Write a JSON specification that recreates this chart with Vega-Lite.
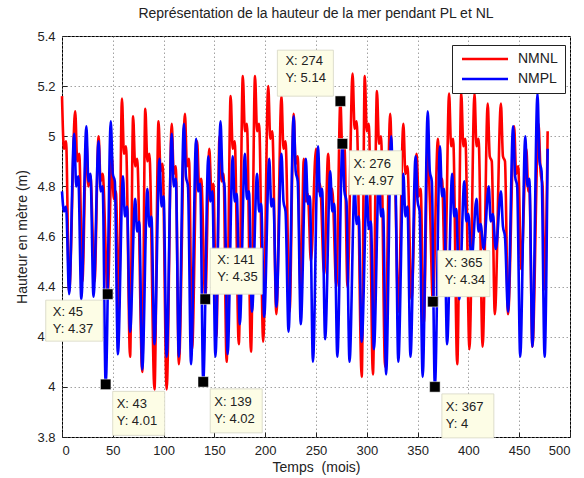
{
  "$schema": "https://vega.github.io/schema/vega-lite/v6.json",
  "width": 508,
  "height": 401,
  "autosize": {"type": "none"},
  "padding": {"left": 62, "top": 36, "right": 14, "bottom": 41},
  "background": "white",
  "title": {"text": "Représentation de la hauteur de la mer pendant PL et NL", "font": "Liberation Sans", "fontSize": 14, "fontWeight": "normal", "color": "#222222", "offset": 9},
  "config": {
    "font": "Liberation Sans",
    "view": {"stroke": "black", "strokeWidth": 1},
    "axis": {
      "labelFont": "Liberation Sans", "labelFontSize": 13, "labelColor": "#222222",
      "titleFont": "Liberation Sans", "titleFontSize": 14, "titleFontWeight": "normal", "titleColor": "#222222",
      "domain": false, "ticks": true, "tickSize": -5, "tickColor": "#222222",
      "grid": true, "gridColor": "#8a8a8a", "gridDash": [1.5, 2.5], "gridWidth": 0.8, "gridOpacity": 1,
      "labelPadding": 12
    }
  },
  "datasets": {
    "nmnl": [
      {"t":0,"h":5.16},{"t":2,"h":4.95},{"t":4,"h":4.98},{"t":7,"h":4.38},
      {"t":13,"h":5.10},{"t":15,"h":4.90},{"t":17,"h":4.93},{"t":20,"h":4.42},
      {"t":24,"h":4.98},{"t":26,"h":4.80},{"t":28,"h":4.84},{"t":32,"h":4.42},
      {"t":36,"h":5.00},{"t":38,"h":4.82},{"t":40,"h":4.85},{"t":45,"h":4.37},
      {"t":49,"h":4.92},{"t":51,"h":4.75},{"t":53,"h":4.78},{"t":56,"h":4.30},
      {"t":59,"h":5.15},{"t":61,"h":4.93},{"t":63,"h":4.96},{"t":67,"h":4.12},
      {"t":70,"h":5.08},{"t":72,"h":4.88},{"t":74,"h":4.91},{"t":79,"h":4.06},
      {"t":82,"h":5.11},{"t":84,"h":4.90},{"t":86,"h":4.93},{"t":91,"h":3.99},
      {"t":95,"h":5.06},{"t":97,"h":4.86},{"t":99,"h":4.89},{"t":103,"h":3.99},
      {"t":108,"h":5.05},{"t":110,"h":4.85},{"t":112,"h":4.88},{"t":115,"h":4.09},
      {"t":121,"h":5.09},{"t":123,"h":4.88},{"t":125,"h":4.91},{"t":128,"h":4.15},
      {"t":133,"h":4.98},{"t":135,"h":4.80},{"t":137,"h":4.83},{"t":141,"h":4.35},
      {"t":145,"h":4.95},{"t":147,"h":4.78},{"t":149,"h":4.81},{"t":152,"h":4.20},
      {"t":155,"h":5.00},{"t":157,"h":4.82},{"t":159,"h":4.85},{"t":162,"h":4.10},
      {"t":166,"h":5.16},{"t":168,"h":4.95},{"t":170,"h":4.98},{"t":174,"h":4.17},
      {"t":178,"h":5.24},{"t":180,"h":5.02},{"t":182,"h":5.05},{"t":186,"h":4.14},
      {"t":190,"h":5.24},{"t":192,"h":5.02},{"t":194,"h":5.05},{"t":198,"h":4.18},
      {"t":203,"h":5.20},{"t":205,"h":4.99},{"t":207,"h":5.02},{"t":211,"h":4.29},
      {"t":216,"h":5.16},{"t":218,"h":4.95},{"t":220,"h":4.98},{"t":224,"h":4.30},
      {"t":228,"h":5.09},{"t":230,"h":4.89},{"t":232,"h":4.92},{"t":235,"h":4.35},
      {"t":238,"h":4.91},{"t":240,"h":4.74},{"t":242,"h":4.77},{"t":245,"h":4.50},
      {"t":250,"h":4.95},{"t":252,"h":4.78},{"t":254,"h":4.81},{"t":258,"h":4.45},
      {"t":262,"h":4.93},{"t":264,"h":4.76},{"t":266,"h":4.79},{"t":270,"h":4.40},
      {"t":274,"h":5.14},{"t":276,"h":4.93},{"t":278,"h":4.96},{"t":281,"h":4.40},
      {"t":286,"h":5.25},{"t":288,"h":5.03},{"t":290,"h":5.06},{"t":295,"h":4.04},
      {"t":298,"h":5.24},{"t":300,"h":5.02},{"t":302,"h":5.05},{"t":306,"h":4.05},
      {"t":310,"h":5.18},{"t":312,"h":4.97},{"t":314,"h":5.00},{"t":318,"h":4.08},
      {"t":323,"h":5.09},{"t":325,"h":4.89},{"t":327,"h":4.92},{"t":331,"h":4.30},
      {"t":336,"h":5.05},{"t":338,"h":4.85},{"t":340,"h":4.88},{"t":344,"h":4.35},
      {"t":349,"h":4.93},{"t":351,"h":4.76},{"t":353,"h":4.79},{"t":356,"h":4.25},
      {"t":360,"h":4.95},{"t":362,"h":4.75},{"t":365,"h":4.34},
      {"t":370,"h":4.99},{"t":372,"h":4.80},{"t":374,"h":4.83},{"t":377,"h":4.45},
      {"t":381,"h":5.17},{"t":383,"h":4.96},{"t":385,"h":4.99},{"t":389,"h":4.09},
      {"t":393,"h":5.17},{"t":395,"h":4.96},{"t":397,"h":4.99},{"t":401,"h":4.15},
      {"t":406,"h":5.17},{"t":408,"h":4.96},{"t":410,"h":4.99},{"t":414,"h":4.16},
      {"t":419,"h":5.13},{"t":421,"h":4.92},{"t":423,"h":4.90},{"t":426,"h":4.29},
      {"t":432,"h":5.13},{"t":434,"h":4.92},{"t":436,"h":4.90},{"t":439,"h":4.29},
      {"t":445,"h":5.04},{"t":447,"h":4.85},{"t":449,"h":4.88},{"t":452,"h":4.47},
      {"t":457,"h":4.95},{"t":459,"h":4.78},{"t":460,"h":4.80},{"t":463,"h":4.16},
      {"t":469,"h":5.05},{"t":471,"h":4.86},{"t":473,"h":4.80},{"t":475,"h":4.39},
      {"t":478,"h":5.02}
    ],
    "nmpl": [
      {"t":0,"h":4.78},{"t":2,"h":4.70},{"t":4,"h":4.72},{"t":7,"h":4.37},
      {"t":12,"h":5.01},{"t":14,"h":4.80},{"t":16,"h":4.84},{"t":19,"h":4.35},
      {"t":24,"h":5.04},{"t":26,"h":4.82},{"t":28,"h":4.85},{"t":31,"h":4.36},
      {"t":36,"h":4.98},{"t":38,"h":4.78},{"t":40,"h":4.80},{"t":43,"h":4.01},
      {"t":48,"h":5.06},{"t":50,"h":4.85},{"t":52,"h":4.82},{"t":55,"h":4.13},
      {"t":60,"h":4.84},{"t":62,"h":4.68},{"t":64,"h":4.72},{"t":67,"h":4.22},
      {"t":72,"h":4.75},{"t":74,"h":4.62},{"t":76,"h":4.66},{"t":79,"h":4.07},
      {"t":84,"h":4.79},{"t":86,"h":4.64},{"t":88,"h":4.68},{"t":91,"h":4.17},
      {"t":96,"h":4.91},{"t":98,"h":4.72},{"t":100,"h":4.76},{"t":103,"h":4.12},
      {"t":108,"h":5.01},{"t":110,"h":4.80},{"t":112,"h":4.83},{"t":115,"h":4.12},
      {"t":120,"h":5.05},{"t":122,"h":4.84},{"t":124,"h":4.80},{"t":127,"h":4.09},
      {"t":132,"h":4.99},{"t":134,"h":4.78},{"t":136,"h":4.81},{"t":139,"h":4.02},
      {"t":144,"h":4.92},{"t":146,"h":4.74},{"t":148,"h":4.78},{"t":151,"h":4.12},
      {"t":156,"h":5.06},{"t":158,"h":4.84},{"t":160,"h":4.80},{"t":163,"h":4.13},
      {"t":168,"h":4.92},{"t":170,"h":4.74},{"t":172,"h":4.77},{"t":175,"h":4.25},
      {"t":180,"h":4.93},{"t":182,"h":4.75},{"t":184,"h":4.78},{"t":187,"h":4.30},
      {"t":192,"h":4.85},{"t":194,"h":4.70},{"t":196,"h":4.73},{"t":199,"h":4.28},
      {"t":204,"h":4.91},{"t":206,"h":4.72},{"t":208,"h":4.75},{"t":211,"h":4.32},
      {"t":216,"h":4.93},{"t":218,"h":4.74},{"t":220,"h":4.70},{"t":223,"h":4.22},
      {"t":228,"h":5.08},{"t":230,"h":4.86},{"t":232,"h":4.82},{"t":235,"h":4.25},
      {"t":240,"h":4.91},{"t":242,"h":4.73},{"t":244,"h":4.76},{"t":247,"h":4.10},
      {"t":252,"h":4.96},{"t":254,"h":4.76},{"t":256,"h":4.79},{"t":259,"h":4.19},
      {"t":264,"h":4.86},{"t":266,"h":4.70},{"t":268,"h":4.73},{"t":271,"h":4.12},
      {"t":276,"h":4.97},{"t":278,"h":4.78},{"t":280,"h":4.74},{"t":283,"h":4.10},
      {"t":288,"h":4.80},{"t":290,"h":4.65},{"t":292,"h":4.68},{"t":295,"h":4.18},
      {"t":300,"h":4.78},{"t":302,"h":4.63},{"t":304,"h":4.66},{"t":307,"h":4.15},
      {"t":312,"h":4.85},{"t":314,"h":4.68},{"t":316,"h":4.71},{"t":319,"h":4.05},
      {"t":324,"h":5.00},{"t":326,"h":4.80},{"t":328,"h":4.83},{"t":331,"h":4.10},
      {"t":336,"h":4.85},{"t":338,"h":4.68},{"t":340,"h":4.72},{"t":343,"h":4.12},
      {"t":348,"h":4.92},{"t":350,"h":4.74},{"t":352,"h":4.70},{"t":355,"h":4.04},
      {"t":360,"h":5.10},{"t":362,"h":4.86},{"t":364,"h":4.82},{"t":367,"h":4.00},
      {"t":372,"h":4.96},{"t":374,"h":4.76},{"t":376,"h":4.79},{"t":379,"h":4.17},
      {"t":384,"h":4.85},{"t":386,"h":4.68},{"t":388,"h":4.71},{"t":391,"h":4.35},
      {"t":396,"h":4.82},{"t":398,"h":4.66},{"t":400,"h":4.69},{"t":403,"h":4.50},
      {"t":408,"h":4.75},{"t":410,"h":4.62},{"t":412,"h":4.65},{"t":415,"h":4.55},
      {"t":420,"h":4.80},{"t":422,"h":4.66},{"t":424,"h":4.69},{"t":427,"h":4.55},
      {"t":432,"h":4.78},{"t":434,"h":4.64},{"t":436,"h":4.60},{"t":439,"h":4.30},
      {"t":444,"h":5.04},{"t":446,"h":4.84},{"t":448,"h":4.80},{"t":451,"h":4.12},
      {"t":456,"h":5.00},{"t":458,"h":4.80},{"t":460,"h":4.83},{"t":463,"h":4.16},
      {"t":468,"h":5.17},{"t":470,"h":4.90},{"t":472,"h":4.86},{"t":475,"h":4.12},
      {"t":478,"h":4.95}
    ],
    "tips": [
      {"t":45,"h":4.37,"lab":"X: 45\nY: 4.37"},
      {"t":43,"h":4.01,"lab":"X: 43\nY: 4.01"},
      {"t":141,"h":4.35,"lab":"X: 141\nY: 4.35"},
      {"t":139,"h":4.02,"lab":"X: 139\nY: 4.02"},
      {"t":274,"h":5.14,"lab":"X: 274\nY: 5.14"},
      {"t":276,"h":4.97,"lab":"X: 276\nY: 4.97"},
      {"t":365,"h":4.34,"lab":"X: 365\nY: 4.34"},
      {"t":367,"h":4.0,"lab":"X: 367\nY: 4"}
    ]
  },
  "encoding": {
    "x": {"field": "t", "type": "quantitative", "scale": {"domain": [0, 500], "nice": false, "zero": false},
      "axis": {"values": [0,50,100,150,200,250,300,350,400,450,500], "title": "Temps \u00a0(mois)", "titlePadding": 3, "format": "d"}},
    "y": {"field": "h", "type": "quantitative", "scale": {"domain": [3.8, 5.4], "nice": false, "zero": false},
      "axis": {"values": [3.8,4,4.2,4.4,4.6,4.8,5,5.2,5.4], "title": "Hauteur en mètre (m)", "titlePadding": 7, "format": "~g"}}
  },
  "layer": [
    {
      "data": {"name": "nmnl"},
      "mark": {"type": "line", "strokeWidth": 2.6, "interpolate": "monotone"},
      "encoding": {
        "color": {"datum": "NMNL", "type": "nominal",
          "scale": {"domain": ["NMNL", "NMPL"], "range": ["#ff0000", "#0000ff"]},
          "legend": {"title": null, "orient": "none", "legendX": 390, "legendY": 9,
            "fillColor": "white", "strokeColor": "#222222", "padding": 7,
            "symbolType": "M-1,0H10.5", "symbolSize": 64, "symbolStrokeWidth": 2.4,
            "labelOffset": 45, "labelFontSize": 14, "labelFont": "Liberation Sans", "labelColor": "#222222",
            "rowPadding": 6}}
      }
    },
    {
      "data": {"name": "nmpl"},
      "mark": {"type": "line", "strokeWidth": 2.6, "interpolate": "monotone"},
      "encoding": {
        "color": {"datum": "NMPL", "type": "nominal",
          "scale": {"domain": ["NMNL", "NMPL"], "range": ["#ff0000", "#0000ff"]}}
      }
    },
    {
      "data": {"name": "tips"},
      "transform": [{"filter": {"field": "t", "oneOf": [43, 139, 276, 367]}}],
      "mark": {"type": "point", "shape": "M0.14,0.14H1.18V1.02H0.14Z", "size": 10000, "filled": true, "fill": "#fdfde6", "stroke": "#d6d6c4", "strokeWidth": 0.8, "opacity": 1}
    },
    {
      "data": {"name": "tips"},
      "transform": [{"filter": {"field": "t", "oneOf": [45]}}],
      "mark": {"type": "point", "shape": "M-1.24,0.12H-0.1V0.94H-1.24Z", "size": 10000, "filled": true, "fill": "#fdfde6", "stroke": "#d6d6c4", "strokeWidth": 0.8, "opacity": 1}
    },
    {
      "data": {"name": "tips"},
      "transform": [{"filter": {"field": "t", "oneOf": [141, 365]}}],
      "mark": {"type": "point", "shape": "M0.1,-1.02H1.14V-0.1H0.1Z", "size": 10000, "filled": true, "fill": "#fdfde6", "stroke": "#d6d6c4", "strokeWidth": 0.8, "opacity": 1}
    },
    {
      "data": {"name": "tips"},
      "transform": [{"filter": {"field": "t", "oneOf": [274]}}],
      "mark": {"type": "point", "shape": "M-1.26,-1.02H-0.14V-0.1H-1.26Z", "size": 10000, "filled": true, "fill": "#fdfde6", "stroke": "#d6d6c4", "strokeWidth": 0.8, "opacity": 1}
    },
    {
      "data": {"name": "tips"},
      "mark": {"type": "point", "shape": "square", "size": 110, "filled": true, "fill": "black", "stroke": "white", "strokeWidth": 0.5, "opacity": 1}
    },
    {
      "data": {"name": "tips"},
      "transform": [{"filter": {"field": "t", "oneOf": [43, 139, 276, 367]}}],
      "mark": {"type": "text", "align": "left", "baseline": "top", "dx": 11, "dy": 14, "fontSize": 13, "font": "Liberation Sans", "lineBreak": "\n", "lineHeight": 17, "color": "#222222"},
      "encoding": {"text": {"field": "lab", "type": "nominal"}}
    },
    {
      "data": {"name": "tips"},
      "transform": [{"filter": {"field": "t", "oneOf": [45]}}],
      "mark": {"type": "text", "align": "left", "baseline": "top", "dx": -55, "dy": 12, "fontSize": 13, "font": "Liberation Sans", "lineBreak": "\n", "lineHeight": 17, "color": "#222222"},
      "encoding": {"text": {"field": "lab", "type": "nominal"}}
    },
    {
      "data": {"name": "tips"},
      "transform": [{"filter": {"field": "t", "oneOf": [141, 365]}}],
      "mark": {"type": "text", "align": "left", "baseline": "top", "dx": 12, "dy": -45, "fontSize": 13, "font": "Liberation Sans", "lineBreak": "\n", "lineHeight": 17, "color": "#222222"},
      "encoding": {"text": {"field": "lab", "type": "nominal"}}
    },
    {
      "data": {"name": "tips"},
      "transform": [{"filter": {"field": "t", "oneOf": [274]}}],
      "mark": {"type": "text", "align": "left", "baseline": "top", "dx": -55, "dy": -46, "fontSize": 13, "font": "Liberation Sans", "lineBreak": "\n", "lineHeight": 17, "color": "#222222"},
      "encoding": {"text": {"field": "lab", "type": "nominal"}}
    }
  ]
}
